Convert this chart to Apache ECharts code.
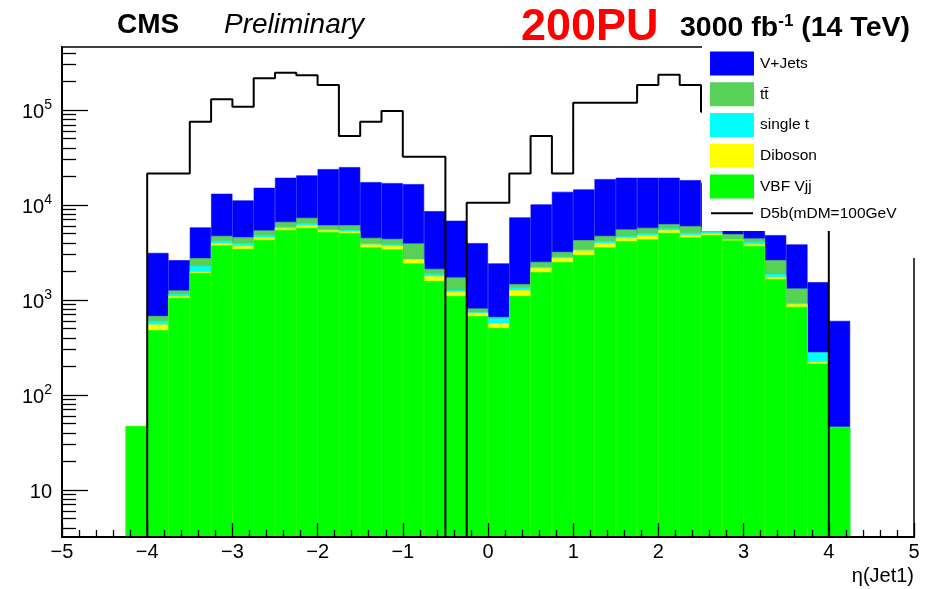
<!DOCTYPE html>
<html>
<head>
<meta charset="utf-8">
<script src="https://cdn.jsdelivr.net/npm/echarts@6/dist/echarts.min.js"></script>
<style>html,body{margin:0;padding:0;background:#fff}#c{width:926px;height:589px;background:#fff}</style>
</head>
<body>
<div id="c"></div>
<script>
// ---- data (bin low edges, bin width 0.25) ----
const binLow = [-4.25,-4.0,-3.75,-3.5,-3.25,-3.0,-2.75,-2.5,-2.25,-2.0,-1.75,-1.5,-1.25,-1.0,-0.75,-0.5,-0.25,
                0.0,0.25,0.5,0.75,1.0,1.25,1.5,1.75,2.0,2.25,2.5,2.75,3.0,3.25,3.5,3.75,4.0];
const vbfVjj    = [47,481,1052,1916,3750,3452,4297,5445,5754,5176,5058,3573,3404,2427,1589,1104,675,
                   508,1104,1963,2500,2985,3573,4169,4345,5093,4560,4819,4236,3690,1656,846,214,46];
const diboson   = [0,71,44,61,222,263,263,309,341,269,214,273,311,246,193,113,56,
                   57,164,215,280,339,399,339,441,352,293,181,80,183,94,57,9,0];
const singleTop = [0,46,55,293,226,221,226,134,302,89,173,90,131,19,102,51,12,
                   73,87,56,64,80,197,191,237,217,240,176,59,220,121,28,57,0];
const ttbar     = [0,81,108,486,534,656,614,765,931,604,693,572,560,1244,244,458,70,
                   26,113,289,370,862,563,835,731,633,905,624,557,353,755,390,0,0];
const vJets     = [0,2454,1367,3052,8390,6584,9780,12711,13184,17740,18932,12912,12616,12660,6496,5097,3159,
                   1763,5935,7623,10558,10322,14018,13830,13610,13069,12291,11200,11068,7554,2193,2525,1261,557];
const signalD5b = [0,21500,21500,75300,129700,108400,215800,247200,232100,183400,53200,75300,97600,32200,32200,0,10550,
                   10550,21500,53200,21500,119400,119400,119400,183400,235600,183400,96000,110000,120000,80000,60000,25000,0];
const xTickLabels = [-5,-4,-3,-2,-1,0,1,2,3,4,5];
const yMajorTicks = [10,100,1000,10000,100000];

const names = ['V+Jets', 'tt\u0304', 'single t', 'Diboson', 'VBF Vjj', 'D5b(mDM=100GeV'];
const colors = ['#0000ff', '#57d257', '#00ffff', '#ffff00', '#00ff00'];
const FONT = '"Liberation Sans", Arial, Helvetica, sans-serif';

// ---- build library tables ----
const BW = 0.25, XMIN = -5, XMAX = 5;
const nCat = Math.round((XMAX - XMIN) / BW);
const cats = [];
for (let i = 0; i < nCat; i++) cats.push((XMIN + i * BW).toFixed(2));
const catIndex = v => Math.round((v - XMIN) / BW);

// cumulative stack (drawn like THStack: totals behind, lower layers on top)
const layers = [vbfVjj, diboson, singleTop, ttbar, vJets]; // bottom -> top
const cumul = [];
let run = binLow.map(() => 0);
layers.forEach(arr => { run = run.map((s, j) => s + arr[j]); cumul.push(run.slice()); });
const barData = k => {
  const full = new Array(nCat).fill(null);
  binLow.forEach((lo, j) => { full[catIndex(lo)] = cumul[k][j] > 0 ? cumul[k][j] : null; });
  return full;
};

const FLOOR = 1; // below axis minimum -> drawn at frame bottom (clipped)
const sigPts = [];
binLow.forEach((lo, j) => {
  const v = signalD5b[j] > 0 ? signalD5b[j] : FLOOR;
  sigPts.push([lo, v], [lo + BW, v]);
});

const YMIN = 3.2, YMAX = 461000;
const yMinorTicks = [];
[1, 10, 100, 1000, 10000, 100000].forEach(d => {
  for (let k = 2; k <= 9; k++) { const t = k * d; if (t >= YMIN && t <= YMAX) yMinorTicks.push(t); }
});

const barSeries = [4, 3, 2, 1, 0].map((k, i) => ({
  name: names[i],
  type: 'bar',
  xAxisIndex: 0, yAxisIndex: 0,
  data: barData(k),
  barWidth: '100%', barGap: '-100%', barCategoryGap: '0%',
  itemStyle: { color: colors[i], borderColor: colors[i], borderWidth: 0.6 },
  emphasis: { disabled: true },
  z: 1
}));

const chart = echarts.init(document.getElementById('c'), null, { renderer: 'canvas' });
chart.setOption({
  animation: false,
  backgroundColor: '#fff',
  textStyle: { fontFamily: FONT },
  grid: { left: 62, right: 12, top: 47, bottom: 52, show: true, borderColor: '#000', borderWidth: 1.5,
          backgroundColor: 'transparent', containLabel: false, outerBoundsMode: 'none' },
  legend: {
    left: 710, top: 51.5, orient: 'vertical',
    itemWidth: 42, itemHeight: 22, itemGap: 6.75, padding: 0,
    textStyle: { fontSize: 15.5, color: '#000', fontFamily: FONT, padding: [0, 0, 0, 2] },
    data: names.map((n, i) => i < 5 ? { name: n, icon: 'rect' }
      : { name: n, icon: 'path://M0,0 L42,0 L42,2 L0,2 Z', itemStyle: { color: '#000' } }),
    selectedMode: false,
    z: 10
  },
  xAxis: [
    { type: 'category', data: cats, show: false, boundaryGap: true, gridIndex: 0 },
    { type: 'value', min: XMIN, max: XMAX, interval: 1, position: 'bottom', gridIndex: 0, z: 6,
      axisLine: { show: true, onZero: false, lineStyle: { color: '#000', width: 2 } },
      axisTick: { show: true, inside: true, length: 14, lineStyle: { color: '#000', width: 1.3 } },
      minorTick: { show: true, splitNumber: 5, length: 7, lineStyle: { color: '#000', width: 1.3 } },
      splitLine: { show: false }, minorSplitLine: { show: false },
      axisLabel: { color: '#000', fontSize: 20, fontFamily: FONT, margin: 5,
                   formatter: v => (xTickLabels.indexOf(v) >= 0 ? String(v).replace('-', '\u2212') : '') },
      name: '\u03b7(Jet1)', nameLocation: 'end', nameGap: 0,
      nameTextStyle: { color: '#000', fontSize: 20, fontFamily: FONT, align: 'right', verticalAlign: 'top',
                       padding: [29, 0, 0, 0] }
    }
  ],
  yAxis: [
    { type: 'log', logBase: 10, min: YMIN, max: YMAX, position: 'left', z: 6,
      axisLine: { show: true, onZero: false, lineStyle: { color: '#000', width: 2 } },
      axisTick: { show: true, inside: true, length: 26, customValues: yMajorTicks, lineStyle: { color: '#000', width: 1.3 } },
      minorTick: { show: false }, splitLine: { show: false },
      axisLabel: { customValues: yMajorTicks, margin: 10, color: '#000',
        formatter: v => { const n = Math.round(Math.log10(v)); return n === 1 ? '{b|10}' : '{b|10}{s|' + n + '}'; },
        rich: {
          b: { fontSize: 20, fontFamily: FONT, color: '#000', verticalAlign: 'bottom', lineHeight: 24 },
          s: { fontSize: 14, fontFamily: FONT, color: '#000', verticalAlign: 'top', lineHeight: 12 }
        } }
    },
    { type: 'log', logBase: 10, min: YMIN, max: YMAX, position: 'left', z: 6,
      axisLine: { show: false, onZero: false },
      axisTick: { show: true, inside: true, length: 14, customValues: yMinorTicks, lineStyle: { color: '#000', width: 1.3 } },
      axisLabel: { show: false }, splitLine: { show: false }, minorTick: { show: false }
    }
  ],
  series: barSeries.concat([{
    name: names[5],
    type: 'line',
    xAxisIndex: 1, yAxisIndex: 0,
    data: sigPts,
    symbol: 'none', showSymbol: false,
    color: '#000',
    lineStyle: { color: '#000', width: 2 },
    clip: true,
    emphasis: { disabled: true },
    z: 3
  }]),
  graphic: [
    { type: 'rect', z: 7, shape: { x: 702, y: 44, width: 224, height: 187 }, style: { fill: '#fff' }, silent: true },
    { type: 'rect', z: 7, shape: { x: 905, y: 231, width: 21, height: 27 }, style: { fill: '#fff' }, silent: true },
    { type: 'text', z: 8, style: { x: 117, y: 25, text: 'CMS', font: 'bold 28px ' + FONT, fill: '#000', verticalAlign: 'middle' } },
    { type: 'text', z: 8, style: { x: 224, y: 25, text: 'Preliminary', font: 'italic 28px ' + FONT, fill: '#000', verticalAlign: 'middle' } },
    { type: 'text', z: 8, style: { x: 521, y: 28, text: '200PU', font: 'bold 45px ' + FONT, fill: '#ff0000', verticalAlign: 'middle' } },
    { type: 'text', z: 8, style: { x: 680, y: 28, verticalAlign: 'middle',
        text: '{m|3000 fb}{s|-1}{m| (14 TeV)}',
        rich: {
          m: { font: 'bold 28.5px ' + FONT, fill: '#000', verticalAlign: 'bottom', lineHeight: 30 },
          s: { font: 'bold 17px ' + FONT, fill: '#000', verticalAlign: 'top', lineHeight: 14 }
        } } }
  ]
});
</script>
</body>
</html>
